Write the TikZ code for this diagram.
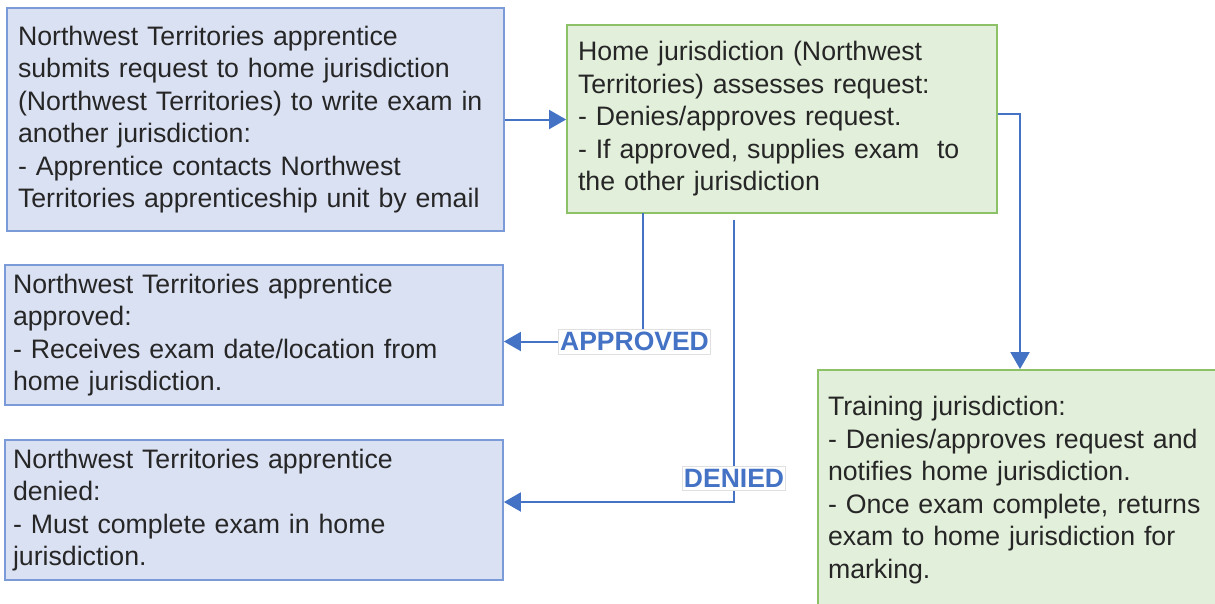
\documentclass[tikz,border=0pt]{standalone}
\usepackage{fontspec}
\setmainfont{Liberation Sans}
\usetikzlibrary{arrows.meta}
\definecolor{bfill}{HTML}{DAE1F3}
\definecolor{bdraw}{HTML}{7A9BD8}
\definecolor{gfill}{HTML}{E2EFDA}
\definecolor{gdraw}{HTML}{8CC167}
\definecolor{arr}{HTML}{4472C4}
\definecolor{txt}{HTML}{262626}
\tikzset{
  box/.style={rectangle, line width=1.8pt, inner xsep=11pt, inner ysep=0pt,
    align=left, text=txt, font=\fontsize{26.7pt}{32.5pt}\selectfont},
  bluebox/.style={box, draw=bdraw, fill=bfill},
  greenbox/.style={box, draw=gdraw, fill=gfill},
  conn/.style={draw=arr, line width=2pt, -{Triangle[length=17pt,width=19pt]}},
  plainconn/.style={draw=arr, line width=2pt},
  lbl/.style={fill=white, draw=black!12, line width=0.6pt, text=arr,
    font=\fontsize{26.5pt}{30pt}\selectfont\bfseries, inner xsep=1.5pt, inner ysep=3pt},
}
\begin{document}
\begin{tikzpicture}[x=1pt,y=-1pt]
\useasboundingbox (0,0) rectangle (1215,603);
\node[bluebox, minimum width=497pt, minimum height=223pt, text width=475pt] (b1) at (255.5,119.5)
{Northwest Territories apprentice\\submits request to home jurisdiction\\(Northwest Territories) to write exam in\\another jurisdiction:\\- Apprentice contacts Northwest\\Territories apprenticeship unit by email};
\node[greenbox, minimum width=430pt, minimum height=188pt, text width=408pt] (b2) at (782,119)
{Home jurisdiction (Northwest\\Territories) assesses request:\\- Denies/approves request.\\- If approved, supplies exam\ \ to\\the other jurisdiction};
\node[bluebox, inner xsep=8pt, minimum width=498pt, minimum height=140pt, text width=482pt] (b3) at (254,335)
{Northwest Territories apprentice\\approved:\\- Receives exam date/location from\\home jurisdiction.};
\node[bluebox, inner xsep=8pt, minimum width=498pt, minimum height=140pt, text width=482pt] (b4) at (254,510)
{Northwest Territories apprentice\\denied:\\- Must complete exam in home\\jurisdiction.};
\node[greenbox, inner xsep=10pt, minimum width=410pt, minimum height=240pt, text width=390pt] (b5) at (1023,490)
{Training jurisdiction:\\- Denies/approves request and\\notifies home jurisdiction.\\- Once exam complete, returns\\exam to home jurisdiction for\\marking.};
% arrows
\draw[conn] (b1.east) -- (b1.east -| b2.west);
\draw[conn] ([yshift=5pt]b2.east) -| ([xshift=-3pt]b5.north);
% approved
\node[lbl] (appr) at (634.5,341.5) {APPROVED};
\coordinate (a1) at (643,213);
\draw[plainconn] (a1) -- (a1 |- appr.north);
\draw[conn] (appr.west) -- (appr.west -| b3.east);
% denied
\coordinate (d1) at (734,220);
\coordinate (d2) at (734,502);
\draw[conn] (d1) -- (d2) -- (d2 -| b4.east);
\node[lbl] (den) at (734,478) {DENIED};
\end{tikzpicture}
\end{document}
